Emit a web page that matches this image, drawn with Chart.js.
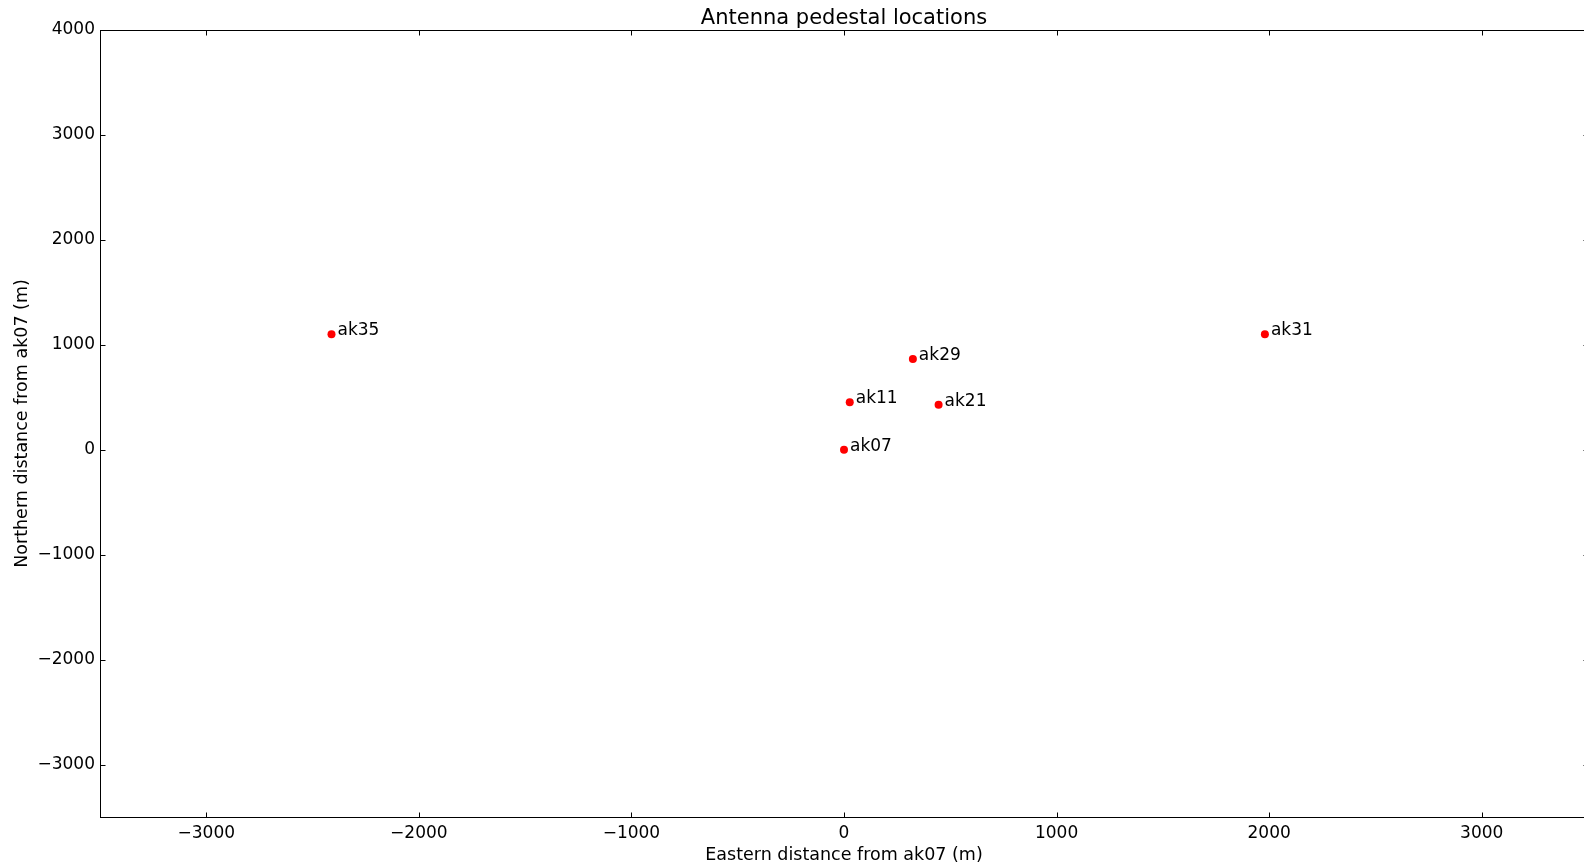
<!DOCTYPE html>
<html>
<head>
<meta charset="utf-8">
<script src="https://cdn.jsdelivr.net/npm/chart.js@4.4.0/dist/chart.umd.min.js"></script>
<style>
  html, body { margin: 0; padding: 0; background: #fff; overflow: hidden; }
</style>
</head>
<body>
<canvas id="chart" width="1688" height="866"></canvas>
<script>
// Antenna positions relative to ak07 (metres)
const antennas = ['ak07', 'ak11', 'ak21', 'ak29', 'ak31', 'ak35'];
const eastM = [0, 27, 445, 324, 1980, -2411];
const northM = [0, 452, 429, 864, 1100, 1100];

const xTicks = [-3000, -2000, -1000, 0, 1000, 2000, 3000];
const yTicks = [-3000, -2000, -1000, 0, 1000, 2000, 3000, 4000];

const FONT = 'DejaVu Sans';
const minus = v => String(v).replace('-', '\u2212');

// matplotlib-like box with inward ticks on all four sides
const framePlugin = {
    id: 'frame',
    beforeDatasetsDraw(chart) {
        const { ctx, chartArea: a, scales: { x, y } } = chart;
        const L = Math.round(a.left) + 0.5, R = Math.round(a.right) + 0.5;
        const T = Math.round(a.top) + 0.5, B = Math.round(a.bottom) + 0.5;
        ctx.save();
        ctx.strokeStyle = '#000';
        ctx.lineWidth = 1;
        ctx.strokeRect(L, T, R - L, B - T);
        ctx.beginPath();
        xTicks.forEach(v => {
            const px = Math.round(x.getPixelForValue(v)) + 0.5;
            ctx.moveTo(px, B); ctx.lineTo(px, B - 5);
            ctx.moveTo(px, T); ctx.lineTo(px, T + 5);
        });
        yTicks.forEach(v => {
            const py = Math.round(y.getPixelForValue(v)) + 0.5;
            ctx.moveTo(L, py); ctx.lineTo(L + 5, py);
            ctx.moveTo(R, py); ctx.lineTo(R - 5, py);
        });
        ctx.stroke();
        ctx.restore();
    }
};

// text labels next to each point
const labelPlugin = {
    id: 'pointLabels',
    afterDatasetsDraw(chart) {
        const { ctx, scales: { x, y } } = chart;
        ctx.save();
        ctx.font = '17px "' + FONT + '"';
        ctx.fillStyle = '#000';
        ctx.textAlign = 'left';
        ctx.textBaseline = 'alphabetic';
        antennas.forEach((name, i) => {
            const px = x.getPixelForValue(eastM[i]);
            const py = y.getPixelForValue(northM[i]);
            ctx.fillText(name, px + 6, py + 1);
        });
        ctx.restore();
    }
};

const ctx = document.getElementById('chart').getContext('2d');
const chart = new Chart(ctx, {
    type: 'scatter',
    data: {
        datasets: [{
            data: antennas.map((n, i) => ({ x: eastM[i], y: northM[i] })),
            backgroundColor: '#ff0000',
            borderWidth: 0,
            pointRadius: 4,
            pointHoverRadius: 4
        }]
    },
    options: {
        responsive: false,
        animation: false,
        events: [],
        layout: { padding: 0 },
        plugins: {
            legend: { display: false },
            tooltip: { enabled: false },
            title: {
                display: true,
                text: 'Antenna pedestal locations',
                color: '#000',
                font: { family: FONT, size: 21, weight: 'normal', lineHeight: 23 / 21 },
                padding: { top: 7, bottom: 0 }
            }
        },
        scales: {
            x: {
                type: 'linear',
                min: -3500,
                max: 3500,
                afterBuildTicks: s => { s.ticks = xTicks.map(v => ({ value: v })); },
                afterFit: s => { s.height = 49; },
                grid: { display: false, drawTicks: false },
                border: { display: false },
                ticks: {
                    color: '#000',
                    padding: 6,
                    maxRotation: 0,
                    font: { family: FONT, size: 17 },
                    callback: v => minus(v)
                },
                title: {
                    display: true,
                    text: 'Eastern distance from ak07 (m)',
                    color: '#000',
                    font: { family: FONT, size: 17.5, lineHeight: 1.2 },
                    padding: { top: 0, bottom: 0 }
                }
            },
            y: {
                type: 'linear',
                min: -3500,
                max: 4000,
                afterBuildTicks: s => { s.ticks = yTicks.map(v => ({ value: v })); },
                afterFit: s => { s.width = 100; },
                grid: { display: false, drawTicks: false },
                border: { display: false },
                ticks: {
                    color: '#000',
                    padding: 5,
                    font: { family: FONT, size: 17 },
                    callback: v => minus(v)
                },
                title: {
                    display: true,
                    text: 'Northern distance from ak07 (m)',
                    color: '#000',
                    font: { family: FONT, size: 17.5, lineHeight: 1.2 },
                    padding: { top: 12, bottom: 0 }
                }
            },
            // empty right-hand axis so the plot box sits symmetrically in the wide canvas
            yRight: {
                type: 'linear',
                position: 'right',
                min: -3500,
                max: 4000,
                afterFit: s => { s.width = 100; },
                grid: { display: false, drawTicks: false },
                border: { display: false },
                ticks: { display: false }
            }
        }
    },
    plugins: [framePlugin, labelPlugin]
});
</script>
</body>
</html>
